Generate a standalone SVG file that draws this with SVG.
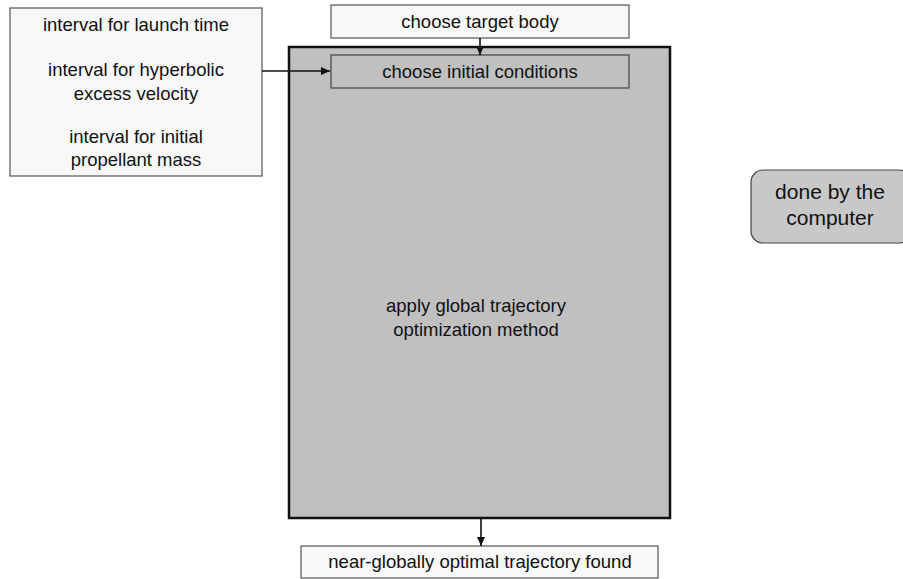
<svg xmlns="http://www.w3.org/2000/svg" width="903" height="579" viewBox="0 0 903 579">
<defs>
<style>
text{font-family:"Liberation Sans",Arial,sans-serif;font-size:18.5px;fill:#111;text-anchor:middle}
.box{fill:#f8f8f8;stroke:#555;stroke-width:1.2}
.conn{stroke:#111;stroke-width:1.6;fill:none}
</style>
<marker id="ah" markerWidth="10" markerHeight="10" refX="9" refY="5" orient="auto" markerUnits="userSpaceOnUse">
<path d="M0,1 L9,5 L0,9 Z" fill="#111"/>
</marker>
</defs>
<rect width="903" height="579" fill="#fff"/>
<g id="method">
<rect x="289" y="47" width="381" height="471" fill="#c0c0c0" stroke="#111" stroke-width="2.5"/>
<text x="476" y="312">apply global trajectory</text>
<text x="476" y="336">optimization method</text>
</g>
<g id="intervals">
<rect class="box" x="10" y="8" width="252" height="168"/>
<text x="136" y="31">interval for launch time</text>
<text x="136" y="76">interval for hyperbolic</text>
<text x="136" y="100">excess velocity</text>
<text x="136" y="143">interval for initial</text>
<text x="136" y="166">propellant mass</text>
</g>
<g id="target">
<rect class="box" x="331" y="5" width="298" height="33"/>
<text x="480" y="28">choose target body</text>
</g>
<g id="initial">
<rect x="331" y="55" width="298" height="33" fill="#c0c0c0" stroke="#444" stroke-width="1.2"/>
<text x="480" y="78">choose initial conditions</text>
</g>
<g id="result">
<rect class="box" x="301" y="546" width="357" height="32"/>
<text x="480" y="568">near-globally optimal trajectory found</text>
</g>
<g id="legend">
<rect x="751" y="170" width="160" height="73" rx="12" fill="#c8c8c8" stroke="#444" stroke-width="1.2"/>
<text x="830" y="199" style="font-size:21px">done by the</text>
<text x="830" y="225" style="font-size:21px">computer</text>
</g>
<g id="connectors">
<path class="conn" d="M262,71 H330" marker-end="url(#ah)"/>
<path class="conn" d="M480,38 V55" marker-end="url(#ah)"/>
<path class="conn" d="M481,518 V546" marker-end="url(#ah)"/>
</g>
</svg>
